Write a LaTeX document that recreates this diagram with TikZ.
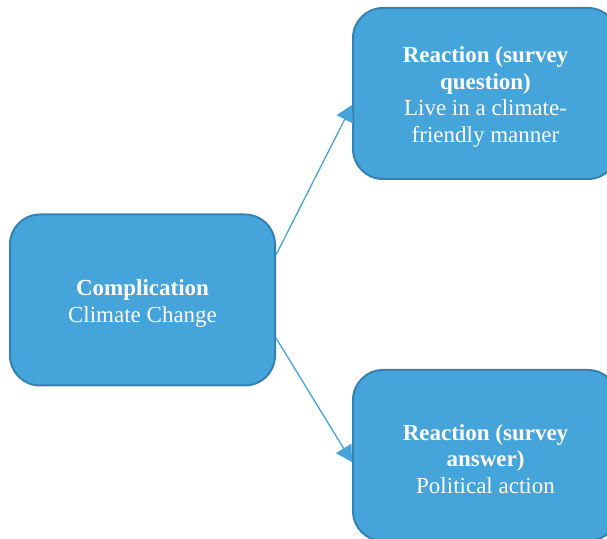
\documentclass[tikz,border=0pt]{standalone}
\usepackage{fontspec}
\setmainfont{Liberation Serif}
\usetikzlibrary{arrows.meta}
\definecolor{boxfill}{RGB}{69,164,218}
\definecolor{boxline}{RGB}{52,130,180}
\definecolor{conn}{RGB}{69,164,218}
\newcommand{\dropstrut}{\rule{0pt}{23pt}}
\begin{document}
\begin{tikzpicture}[x=1pt,y=1pt,
  box/.style={draw=boxline, line width=2pt, fill=boxfill, rounded corners=30pt,
    minimum width=265pt, minimum height=171pt, align=center, text=white,
    font=\fontsize{23}{26.5}\selectfont, inner sep=0pt},
  conn/.style={draw=conn, line width=1.3pt, -{Triangle[length=16pt,width=18pt]}}]
\useasboundingbox (0,0) rectangle (607,538);
\clip (0,0) rectangle (607,538);
\node[box] (L) at (142.5,238) {\dropstrut\textbf{Complication}\\Climate Change};
\node[box] (T) at (485.5,444.5) {\dropstrut\textbf{Reaction (survey}\\\textbf{question)}\\Live in a climate-\\friendly manner};
\node[box] (B) at (485.5,82.5) {\dropstrut\textbf{Reaction (survey}\\\textbf{answer)}\\Political action};
\draw[conn] ([yshift=45pt]L.east) -- ([yshift=-11.5pt]T.west);
\draw[conn] ([yshift=-38pt]L.east) -- ([yshift=-6.5pt]B.west);
\end{tikzpicture}
\end{document}
